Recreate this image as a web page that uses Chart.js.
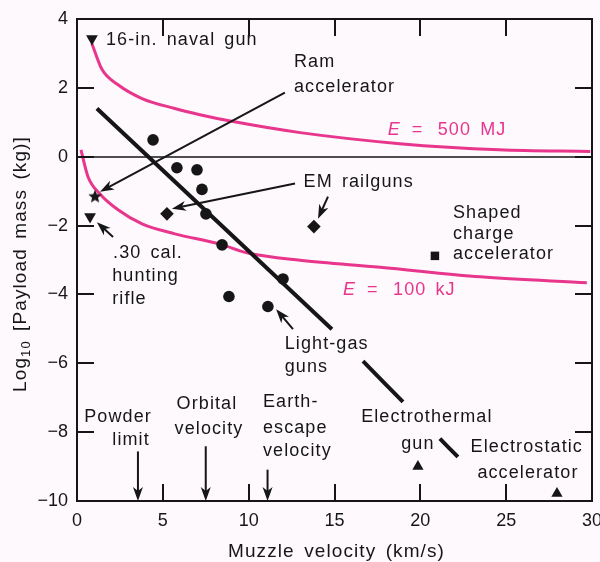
<!DOCTYPE html>
<html>
<head>
<meta charset="utf-8">
<script src="https://cdn.jsdelivr.net/npm/chart.js@4"></script>
<style>
  html, body { margin: 0; padding: 0; background: #fdf9fc; }
</style>
</head>
<body>
<canvas id="myChart" width="600" height="562"></canvas>
<script>
// x = muzzle velocity (km/s), y = log10 payload mass (kg)

// light-gas guns (dots)
const lightGasV = [4.43, 5.82, 6.99, 7.28, 7.51, 8.45, 12.0, 8.85, 11.12];
const lightGasY = [0.49, -0.32, -0.38, -0.95, -1.66, -2.56, -3.55, -4.06, -4.35];
// 16-in. naval gun, .30 cal. hunting rifle
const powderGunV = [0.87, 0.76];
const powderGunY = [3.43, -1.74];
// ram accelerator
const ramV = [1.05];
const ramY = [-1.16];
// EM railguns
const railgunV = [5.24, 13.8];
const railgunY = [-1.66, -2.03];
// shaped charge accelerator
const shapedV = [20.85];
const shapedY = [-2.88];
// electrothermal gun, electrostatic accelerator
const electroV = [19.86, 27.96];
const electroY = [-9.0, -9.78];

// trend line (broken where labels sit)
const trendV = [1.16, 14.85, 15.7, 16.66, 18.99, 20.0, 21.14, 22.19];
const trendY = [1.40, -5.01, null, -5.94, -7.12, null, -8.19, -8.72];

// constant energy curves
const e500V = [0.87, 1.46, 2.39, 3.79, 5.7, 7.16, 9.09, 13.0, 18.8, 24.6, 29.9];
const e500Y = [3.28, 2.53, 2.09, 1.69, 1.40, 1.22, 1.02, 0.70, 0.38, 0.20, 0.15];
const e100V = [0.23, 0.64, 1.34, 2.39, 3.79, 5.7, 8.33, 9.9, 12.99, 17.65, 23.5, 29.7];
const e100Y = [0.2, -0.58, -1.08, -1.54, -1.95, -2.24, -2.54, -2.79, -3.01, -3.21, -3.49, -3.66];

// arrows: from -> to
const arrowFromV = [12.11, 12.7, 14.62, 2.1, 12.58, 3.55, 7.5, 11.1];
const arrowFromY = [1.86, -0.78, -1.16, -2.33, -5.01, -8.56, -8.41, -9.09];
const arrowToV = [1.34, 5.53, 14.04, 1.16, 11.6, 3.55, 7.5, 11.1];
const arrowToY = [-1.02, -1.51, -1.8, -1.9, -4.43, -10, -10, -10];

const xTicks = [0, 5, 10, 15, 20, 25, 30];
const yTicks = [4, 2, 0, -2, -4, -6, -8, -10];

const PINK = "#e8368d";
const INK = "#161616";
const FONT = "'Liberation Sans', Arial, sans-serif";

// annotation text: [text, x, y, align, colour]
const notes = [
  ["16-in. naval gun", 1.69, 3.40, "left"],
  ["Ram", 12.64, 2.76, "left"],
  ["accelerator", 12.64, 2.03, "left"],
  ["E = 500 MJ", 18.1, 0.78, "left", PINK],
  ["EM railguns", 13.2, -0.73, "left"],
  ["Shaped", 21.9, -1.65, "left"],
  ["charge", 21.9, -2.24, "left"],
  ["accelerator", 21.9, -2.82, "left"],
  [".30 cal.", 2.1, -2.79, "left"],
  ["hunting", 2.05, -3.46, "left"],
  ["rifle", 2.05, -4.14, "left"],
  ["E = 100 kJ", 15.5, -3.86, "left", PINK],
  ["Light-gas", 12.1, -5.45, "left"],
  ["guns", 12.1, -6.12, "left"],
  ["Powder", 2.39, -7.56, "center"],
  ["limit", 3.15, -8.24, "center"],
  ["Orbital", 7.57, -7.18, "center"],
  ["velocity", 7.69, -7.91, "center"],
  ["Earth-", 10.83, -7.12, "left"],
  ["escape", 10.83, -7.88, "left"],
  ["velocity", 10.83, -8.56, "left"],
  ["Electrothermal", 20.38, -7.56, "center"],
  ["gun", 19.86, -8.34, "center"],
  ["Electrostatic", 26.2, -8.44, "center"],
  ["accelerator", 26.27, -9.19, "center"],
];

const pts = (xs, ys) => xs.map((x, i) => ({ x: x, y: ys[i] }));

function makeStar(r) {
  const c = document.createElement("canvas");
  c.width = c.height = 2 * r + 2;
  const g = c.getContext("2d");
  g.beginPath();
  for (let i = 0; i < 10; i++) {
    const rr = i % 2 ? r * 0.45 : r;
    const a = -Math.PI / 2 + (i * Math.PI) / 5;
    g.lineTo(r + 1 + rr * Math.cos(a), r + 1 + rr * Math.sin(a));
  }
  g.closePath();
  g.fillStyle = INK;
  g.fill();
  return c;
}

function arrow(ctx, x1, y1, x2, y2) {
  const a = Math.atan2(y2 - y1, x2 - x1);
  const L = 14, W = 5;
  ctx.beginPath();
  ctx.moveTo(x1, y1);
  ctx.lineTo(x2 - Math.cos(a) * L * 0.7, y2 - Math.sin(a) * L * 0.7);
  ctx.stroke();
  ctx.save();
  ctx.translate(x2, y2);
  ctx.rotate(a);
  ctx.beginPath();
  ctx.moveTo(0, 0);
  ctx.lineTo(-L, -W);
  ctx.lineTo(-L * 0.72, 0);
  ctx.lineTo(-L, W);
  ctx.closePath();
  ctx.fill();
  ctx.restore();
}

const extras = {
  id: "extras",
  beforeDraw(chart) {
    const ctx = chart.ctx;
    ctx.save();
    ctx.fillStyle = "#fdf9fc";
    ctx.fillRect(0, 0, chart.width, chart.height);
    ctx.restore();
  },
  beforeDatasetsDraw(chart) {
    const { ctx, chartArea: a, scales } = chart;
    ctx.save();
    ctx.fillStyle = INK;
    const y0 = Math.round(scales.y.getPixelForValue(0));
    ctx.fillRect(a.left, y0 - 0.75, a.right - a.left, 1.5);
    ctx.restore();
  },
  afterDatasetsDraw(chart) {
    const { ctx, chartArea: a, scales } = chart;
    const sx = (v) => scales.x.getPixelForValue(v);
    const sy = (v) => scales.y.getPixelForValue(v);
    ctx.save();

    // frame and inward ticks
    ctx.fillStyle = INK;
    const L = Math.round(a.left), R = Math.round(a.right);
    const T = Math.round(a.top), B = Math.round(a.bottom);
    const TL = 17;
    ctx.fillRect(L - 1, T - 1, R - L + 2, 2);
    ctx.fillRect(L - 1, B - 1, R - L + 2, 2);
    ctx.fillRect(L - 1, T - 1, 2, B - T + 2);
    ctx.fillRect(R - 1, T - 1, 2, B - T + 2);
    xTicks.slice(1, -1).forEach((v) => {
      const x = Math.round(sx(v));
      ctx.fillRect(x - 1, T, 2, TL);
      ctx.fillRect(x - 1, B - TL, 2, TL);
    });
    yTicks.slice(1, -1).forEach((v) => {
      const y = Math.round(sy(v));
      ctx.fillRect(L, y - 1, TL, 2);
      ctx.fillRect(R - TL, y - 1, TL, 2);
    });

    // arrows
    ctx.strokeStyle = INK;
    ctx.lineWidth = 2;
    arrowFromV.forEach((v, i) => {
      arrow(ctx, sx(v), sy(arrowFromY[i]), sx(arrowToV[i]), sy(arrowToY[i]));
    });

    // notes
    ctx.textBaseline = "middle";
    ctx.letterSpacing = "1.1px";
    ctx.wordSpacing = "3px";
    notes.forEach(([t, v, y, align, col]) => {
      ctx.fillStyle = col || INK;
      const x = sx(v), yy = sy(y);
      if (t.startsWith("E =")) {
        // E (italic), "=", then value, spaced like the original
        ctx.textAlign = "left";
        ctx.font = "italic 18px " + FONT;
        ctx.fillText("E", x, yy);
        ctx.font = "18px " + FONT;
        ctx.fillText("=", x + 24, yy);
        ctx.fillText(t.slice(4), x + 50, yy);
      } else {
        ctx.font = "18px " + FONT;
        ctx.textAlign = align;
        ctx.fillText(t, x, yy);
      }
    });

    // axis titles
    ctx.fillStyle = INK;
    ctx.font = "19px " + FONT;
    ctx.textAlign = "center";
    ctx.fillText("Muzzle velocity (km/s)", (a.left + a.right) / 2 + 2, 552);

    ctx.translate(19, (a.top + a.bottom) / 2 + 4);
    ctx.rotate(-Math.PI / 2);
    ctx.textAlign = "left";
    ctx.textBaseline = "alphabetic";
    const p1 = "Log", p2 = "10", p3 = " [Payload mass (kg)]";
    ctx.font = "19px " + FONT;
    const w1 = ctx.measureText(p1).width, w3 = ctx.measureText(p3).width;
    ctx.font = "13px " + FONT;
    const w2 = ctx.measureText(p2).width;
    const x0 = -(w1 + w2 + w3) / 2;
    ctx.font = "19px " + FONT;
    ctx.fillText(p1, x0, 7);
    ctx.font = "13px " + FONT;
    ctx.fillText(p2, x0 + w1, 11);
    ctx.font = "19px " + FONT;
    ctx.fillText(p3, x0 + w1 + w2, 7);
    ctx.restore();
  },
};

const marker = (data, style, r, rot) => ({
  data: data,
  pointStyle: style,
  pointRadius: r,
  rotation: rot || 0,
  backgroundColor: INK,
  borderColor: INK,
  borderWidth: 0,
  showLine: false,
  order: 1,
});

const curve = (data, color, w, order) => ({
  data: data,
  showLine: true,
  borderColor: color,
  borderWidth: w,
  pointRadius: 0,
  cubicInterpolationMode: "monotone",
  spanGaps: false,
  fill: false,
  order: order,
});

new Chart(document.getElementById("myChart"), {
  type: "scatter",
  data: {
    datasets: [
      marker(pts(lightGasV, lightGasY), "circle", 5.8),
      marker(pts(powderGunV, powderGunY), "triangle", 6.8, 180),
      marker(pts(ramV, ramY), makeStar(7), 7),
      marker(pts(railgunV, railgunY), "rectRot", 6.8),
      marker(pts(shapedV, shapedY), "rect", 6),
      marker(pts(electroV, electroY), "triangle", 6.5),
      curve(pts(trendV, trendY), INK, 4, 2),
      curve(pts(e500V, e500Y), PINK, 3, 3),
      curve(pts(e100V, e100Y), PINK, 3, 3),
    ],
  },
  options: {
    responsive: false,
    animation: false,
    layout: { padding: { left: 0, top: 19, right: 8, bottom: 0 } },
    plugins: { legend: { display: false }, tooltip: { enabled: false } },
    scales: {
      x: {
        type: "linear",
        min: 0,
        max: 30,
        grid: { display: false, drawTicks: false },
        border: { display: false },
        ticks: {
          stepSize: 5,
          padding: 9,
          color: INK,
          font: { family: FONT, size: 18 },
        },
        afterFit(s) { s.height = 61; s.paddingLeft = 0; s.paddingRight = 0; },
      },
      y: {
        type: "linear",
        min: -10,
        max: 4,
        grid: { display: false, drawTicks: false },
        border: { display: false },
        ticks: {
          stepSize: 2,
          padding: 9,
          color: INK,
          font: { family: FONT, size: 18 },
          callback: (v) => (v < 0 ? "\u2212" + Math.abs(v) : String(v)),
        },
        afterFit(s) { s.width = 77; s.paddingTop = 0; s.paddingBottom = 0; },
      },
    },
  },
  plugins: [extras],
});
</script>
</body>
</html>
